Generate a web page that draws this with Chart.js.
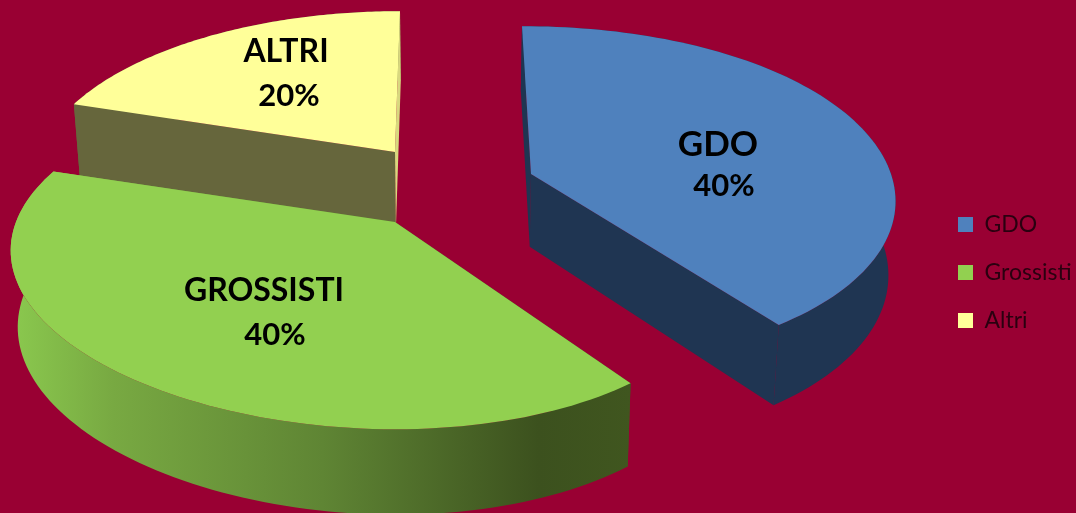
<!DOCTYPE html>
<html>
<head>
<meta charset="utf-8">
<style>
  html, body { margin: 0; padding: 0; background: #990033; overflow: hidden; }
  canvas { display: block; }
</style>
<script src="https://cdn.jsdelivr.net/npm/chart.js@4"></script>
</head>
<body>
<canvas id="pie" width="1076" height="513"></canvas>
<script>
// Sales channels and their shares
const categories = ['GDO', 'Grossisti', 'Altri'];
const shares = [40, 40, 20];
const topColors = ['#4f81bd', '#92d050', '#ffff99'];

// Tilted-disc view of each exploded slice: apex position, radii, perspective, skew and thickness
const views = [
  { cx: 531, cy: 174, rx: 375, ry: 167, persp: 0.13, shear: 9, skew: 0.04, depth: 64 },
  { cx: 395, cy: 222, rx: 358, ry: 172, persp: 0.17, shear: 0, skew: 0.0587, depth: 64 },
  { cx: 395, cy: 152, rx: 355, ry: 162, persp: 0.15, shear: -5, skew: 0, depth: 69 }
];
const wallColors = ['#1f3552', null, '#66663c'];
const startFaceColors = ['#1f3552', null, '#66663c'];
const endFaceColors = ['#1f3552', null, '#d8d87e'];
const drawOrder = [2, 0, 1];

// Caption placement relative to each slice apex
const captions = [
  { nameDx: 187, nameDy: -29, valueDx: 193, valueDy: 12, nameSize: 35, valueSize: 31 },
  { nameDx: -131, nameDy: 69, valueDx: -120, valueDy: 113, nameSize: 32, valueSize: 31 },
  { nameDx: -109, nameDy: -100, valueDx: -106, valueDy: -56, nameSize: 32, valueSize: 31 }
];

function project(view, theta, r) {
  const u = r * Math.sin(theta);
  const v = -r * Math.cos(theta);
  const s = 1 / (1 - view.persp * v);
  return {
    x: view.cx + view.rx * u * (1 - view.skew * u) * s + view.shear * v,
    y: view.cy + view.ry * v * s
  };
}

// The lower rim of the extruded disc
function drop(p, view) {
  return { x: p.x - 0.016 * (p.x - 450), y: p.y + view.depth + 0.05 * p.y };
}

function rimPoints(view, from, to) {
  const pts = [];
  const steps = 96;
  for (let i = 0; i <= steps; i++) {
    pts.push(project(view, from + (to - from) * i / steps, 1));
  }
  return pts;
}

function fillPoly(ctx, pts, paint) {
  ctx.beginPath();
  pts.forEach((p, i) => (i ? ctx.lineTo(p.x, p.y) : ctx.moveTo(p.x, p.y)));
  ctx.closePath();
  ctx.fillStyle = paint;
  ctx.fill();
}

const extrudedPie = {
  id: 'extrudedPie',
  afterLayout(chart) {
    // Legend column sits to the right of the disc
    chart.legend.left = 958 - chart.legend.options.labels.padding;
    chart.legend.top = 188;
  },
  beforeDatasetDraw(chart) {
    const ctx = chart.ctx;
    const arcs = chart.getDatasetMeta(0).data;
    const greenWall = ctx.createLinearGradient(14, 0, 631, 0);
    greenWall.addColorStop(0, '#8ac84e');
    greenWall.addColorStop(0.16, '#78a942');
    greenWall.addColorStop(0.5, '#5f8534');
    greenWall.addColorStop(0.85, '#3c511e');
    greenWall.addColorStop(1, '#40561f');

    drawOrder.forEach(i => {
      const view = views[i];
      const from = arcs[i].startAngle + Math.PI / 2;
      const to = arcs[i].endAngle + Math.PI / 2;
      const rim = rimPoints(view, from, to);
      const apex = { x: view.cx, y: view.cy };
      const first = rim[0];
      const last = rim[rim.length - 1];
      const lower = p => drop(p, view);

      fillPoly(ctx, rim.concat(rim.map(lower).reverse()), wallColors[i] || greenWall);
      fillPoly(ctx, [apex, first, lower(first), lower(apex)], startFaceColors[i] || greenWall);
      fillPoly(ctx, [apex, last, lower(last), lower(apex)], endFaceColors[i] || greenWall);
      fillPoly(ctx, [apex].concat(rim), topColors[i]);
    });

    ctx.save();
    ctx.fillStyle = '#000';
    ctx.textAlign = 'center';
    ctx.textBaseline = 'middle';
    captions.forEach((c, i) => {
      const view = views[i];
      ctx.font = `bold ${c.nameSize}px Lato`;
      ctx.fillText(categories[i].toUpperCase(), view.cx + c.nameDx, view.cy + c.nameDy);
      ctx.font = `bold ${c.valueSize}px Lato`;
      ctx.fillText(shares[i] + '%', view.cx + c.valueDx, view.cy + c.valueDy);
    });
    ctx.restore();
    return false;
  }
};

new Chart(document.getElementById('pie'), {
  type: 'pie',
  data: {
    labels: categories,
    datasets: [{ data: shares, backgroundColor: topColors, borderWidth: 0 }]
  },
  plugins: [extrudedPie],
  options: {
    responsive: false,
    animation: false,
    rotation: 0,
    plugins: {
      tooltip: { enabled: false },
      legend: {
        position: 'right',
        align: 'start',
        labels: {
          boxWidth: 15,
          boxHeight: 15,
          padding: 25,
          color: '#2a0010',
          font: { family: 'Lato', size: 23 }
        }
      }
    }
  }
});
</script>
</body>
</html>
